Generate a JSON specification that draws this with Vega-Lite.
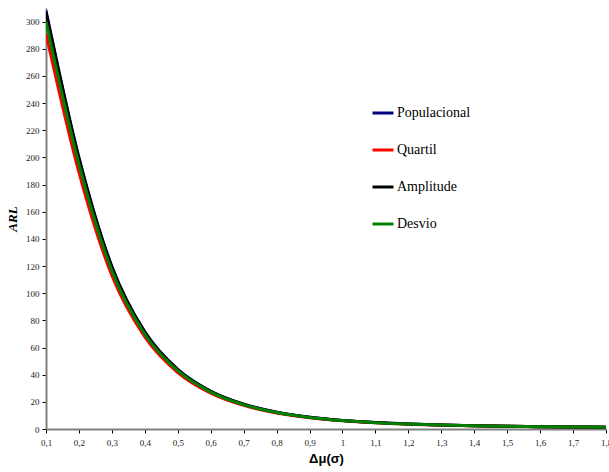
{
  "$schema": "https://vega.github.io/schema/vega-lite/v6.json",
  "width": 560,
  "height": 421,
  "autosize": {"type": "none"},
  "padding": {"left": 46, "top": 8, "right": 3, "bottom": 43},
  "background": "white",
  "config": {"view": {"stroke": null}},
  "data": {"values": [
    {"d":0.1,"s":"Populacional","arl":308},{"d":0.2,"s":"Populacional","arl":200},{"d":0.3,"s":"Populacional","arl":119.7},{"d":0.4,"s":"Populacional","arl":71.6},{"d":0.5,"s":"Populacional","arl":43.9},{"d":0.6,"s":"Populacional","arl":27.8},{"d":0.7,"s":"Populacional","arl":18.25},{"d":0.8,"s":"Populacional","arl":12.4},{"d":0.9,"s":"Populacional","arl":8.7},{"d":1.0,"s":"Populacional","arl":6.3},{"d":1.1,"s":"Populacional","arl":4.72},{"d":1.2,"s":"Populacional","arl":3.65},{"d":1.3,"s":"Populacional","arl":2.9},{"d":1.4,"s":"Populacional","arl":2.38},{"d":1.5,"s":"Populacional","arl":2.0},{"d":1.6,"s":"Populacional","arl":1.73},{"d":1.7,"s":"Populacional","arl":1.53},{"d":1.8,"s":"Populacional","arl":1.38},
    {"d":0.1,"s":"Quartil","arl":291},{"d":0.2,"s":"Quartil","arl":189},{"d":0.3,"s":"Quartil","arl":113},{"d":0.4,"s":"Quartil","arl":67.8},{"d":0.5,"s":"Quartil","arl":41.6},{"d":0.6,"s":"Quartil","arl":26.4},{"d":0.7,"s":"Quartil","arl":17.4},{"d":0.8,"s":"Quartil","arl":11.8},{"d":0.9,"s":"Quartil","arl":8.35},{"d":1.0,"s":"Quartil","arl":6.1},{"d":1.1,"s":"Quartil","arl":4.6},{"d":1.2,"s":"Quartil","arl":3.57},{"d":1.3,"s":"Quartil","arl":2.85},{"d":1.4,"s":"Quartil","arl":2.35},{"d":1.5,"s":"Quartil","arl":1.98},{"d":1.6,"s":"Quartil","arl":1.72},{"d":1.7,"s":"Quartil","arl":1.52},{"d":1.8,"s":"Quartil","arl":1.38},
    {"d":0.1,"s":"Amplitude","arl":307},{"d":0.2,"s":"Amplitude","arl":199},{"d":0.3,"s":"Amplitude","arl":119},{"d":0.4,"s":"Amplitude","arl":71.2},{"d":0.5,"s":"Amplitude","arl":43.7},{"d":0.6,"s":"Amplitude","arl":27.7},{"d":0.7,"s":"Amplitude","arl":18.2},{"d":0.8,"s":"Amplitude","arl":12.3},{"d":0.9,"s":"Amplitude","arl":8.65},{"d":1.0,"s":"Amplitude","arl":6.28},{"d":1.1,"s":"Amplitude","arl":4.7},{"d":1.2,"s":"Amplitude","arl":3.64},{"d":1.3,"s":"Amplitude","arl":2.89},{"d":1.4,"s":"Amplitude","arl":2.37},{"d":1.5,"s":"Amplitude","arl":2.0},{"d":1.6,"s":"Amplitude","arl":1.73},{"d":1.7,"s":"Amplitude","arl":1.53},{"d":1.8,"s":"Amplitude","arl":1.38},
    {"d":0.1,"s":"Desvio","arl":300},{"d":0.2,"s":"Desvio","arl":195},{"d":0.3,"s":"Desvio","arl":116.5},{"d":0.4,"s":"Desvio","arl":69.8},{"d":0.5,"s":"Desvio","arl":42.9},{"d":0.6,"s":"Desvio","arl":27.2},{"d":0.7,"s":"Desvio","arl":17.9},{"d":0.8,"s":"Desvio","arl":12.1},{"d":0.9,"s":"Desvio","arl":8.55},{"d":1.0,"s":"Desvio","arl":6.2},{"d":1.1,"s":"Desvio","arl":4.66},{"d":1.2,"s":"Desvio","arl":3.61},{"d":1.3,"s":"Desvio","arl":2.88},{"d":1.4,"s":"Desvio","arl":2.37},{"d":1.5,"s":"Desvio","arl":1.99},{"d":1.6,"s":"Desvio","arl":1.72},{"d":1.7,"s":"Desvio","arl":1.52},{"d":1.8,"s":"Desvio","arl":1.38}
  ]},
  "transform": [
    {"lookup": "s", "from": {"data": {"values": [{"s":"Populacional","o":0},{"s":"Quartil","o":1},{"s":"Amplitude","o":2},{"s":"Desvio","o":3}]}, "key": "s", "fields": ["o"]}}
  ],
  "mark": {"type": "line", "interpolate": "monotone", "strokeWidth": 3, "clip": true},
  "encoding": {
    "x": {
      "field": "d", "type": "quantitative",
      "scale": {"domain": [0.1, 1.8], "nice": false, "zero": false},
      "axis": {
        "values": [0.1,0.2,0.3,0.4,0.5,0.6,0.7,0.8,0.9,1.0,1.1,1.2,1.3,1.4,1.5,1.6,1.7,1.8],
        "labelExpr": "replace(format(datum.value, '.1~f'), '.', ',')",
        "grid": false,
        "domainColor": "#808080", "domainWidth": 2,
        "tickColor": "#000", "tickSize": 4, "tickWidth": 1,
        "labelFont": "Liberation Serif, Times New Roman, serif", "labelFontSize": 9, "labelColor": "#222", "labelPadding": 5,
        "labelFlush": false, "labelOverlap": false,
        "title": "Δμ(σ)", "titleFont": "Liberation Sans", "titleFontSize": 13, "titleFontWeight": "bold",
        "titleColor": "#000", "titlePadding": 5
      }
    },
    "y": {
      "field": "arl", "type": "quantitative",
      "scale": {"domain": [0, 310], "nice": false},
      "axis": {
        "values": [0,20,40,60,80,100,120,140,160,180,200,220,240,260,280,300],
        "grid": false,
        "domainColor": "#808080", "domainWidth": 2,
        "tickColor": "#000", "tickSize": 4, "tickWidth": 1,
        "labelFont": "Liberation Serif, Times New Roman, serif", "labelFontSize": 9, "labelColor": "#222", "labelPadding": 3,
        "labelFlush": false, "labelOverlap": false,
        "title": "ARL", "titleFont": "Liberation Serif, Times New Roman, serif", "titleFontSize": 13, "titleFontWeight": "bold", "titleFontStyle": "italic",
        "titleColor": "#000", "titlePadding": 6
      }
    },
    "color": {
      "field": "s", "type": "nominal",
      "scale": {"domain": ["Populacional","Quartil","Amplitude","Desvio"], "range": ["#000080","#FF0000","#000000","#008000"]},
      "legend": {
        "title": null, "orient": "none", "legendX": 325, "legendY": 93,
        "symbolType": "stroke", "symbolStrokeWidth": 3, "symbolSize": 440,
        "labelFont": "Liberation Serif, Times New Roman, serif", "labelFontSize": 14, "labelColor": "#000",
        "labelOffset": 2, "rowPadding": 18
      }
    },
    "order": {"field": "o", "type": "quantitative"},
    "detail": {"field": "s"}
  }
}
